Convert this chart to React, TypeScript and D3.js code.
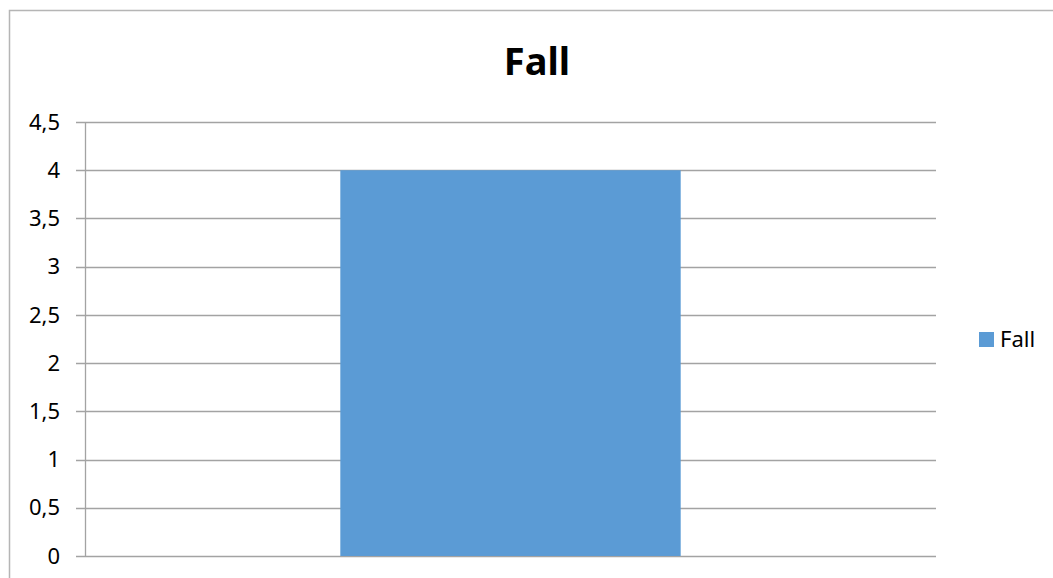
import { useEffect, useRef } from "react";
import * as d3 from "d3";

// données
const categories = ["Fall"];
const values = [4];
const seriesName = "Fall";
const yTicks = [0, 0.5, 1, 1.5, 2, 2.5, 3, 3.5, 4, 4.5];

const width = 1053;
const height = 578;
const margin = { top: 122, right: 117, bottom: 22, left: 85 };
const font = "'Noto Sans', 'Open Sans', sans-serif";

const drawChart = (node: SVGSVGElement) => {
    const svg = d3.select(node);
    svg.selectAll("*").remove();

    // cadre
    svg.append("rect")
        .attr("x", 9.5)
        .attr("y", 10.5)
        .attr("width", width + 20)
        .attr("height", height + 20)
        .attr("fill", "white")
        .attr("stroke", "#b5b5b5")
        .attr("stroke-width", 1.5);

    const x = d3.scaleBand()
        .domain(categories)
        .range([margin.left, width - margin.right])
        .padding(0.4286);

    const y = d3.scaleLinear()
        .domain([0, 4.5])
        .range([height - margin.bottom, margin.top]);

    // lignes de grille
    svg.append("g")
        .selectAll("line")
        .data(yTicks)
        .join("line")
        .attr("x1", margin.left - 9)
        .attr("x2", width - margin.right)
        .attr("y1", d => Math.round(y(d)) + 0.5)
        .attr("y2", d => Math.round(y(d)) + 0.5)
        .attr("stroke", "#a3a3a3")
        .attr("stroke-width", 1.3);

    // barres
    svg.append("g")
        .selectAll("rect")
        .data(values)
        .join("rect")
        .attr("x", (_, i) => x(categories[i]) as number)
        .attr("width", x.bandwidth())
        .attr("y", d => y(d))
        .attr("height", d => y(0) - y(d))
        .attr("fill", "#5b9bd5");

    // axe vertical
    svg.append("line")
        .attr("x1", margin.left + 0.5)
        .attr("x2", margin.left + 0.5)
        .attr("y1", y(4.5))
        .attr("y2", y(0))
        .attr("stroke", "#a3a3a3")
        .attr("stroke-width", 1.3);

    // étiquettes
    svg.append("g")
        .attr("font-family", font)
        .attr("font-size", 22)
        .attr("text-anchor", "end")
        .selectAll("text")
        .data(yTicks)
        .join("text")
        .attr("x", 60)
        .attr("y", d => y(d))
        .attr("dy", "0.35em")
        .attr("fill", "#000")
        .text(d => d3.format("")(d).replace(".", ","));

    // titre
    svg.append("text")
        .attr("x", 537)
        .attr("y", 75)
        .attr("text-anchor", "middle")
        .attr("font-family", font)
        .attr("font-weight", "bold")
        .attr("font-size", 38)
        .text(categories[0]);

    // légende
    const legend = svg.append("g");
    legend.append("rect")
        .attr("x", 979)
        .attr("y", 332)
        .attr("width", 15)
        .attr("height", 15)
        .attr("fill", "#5b9bd5");
    legend.append("text")
        .attr("x", 1000)
        .attr("y", 347)
        .attr("font-family", font)
        .attr("font-size", 22)
        .text(seriesName);
};

export default function App() {
    const ref = useRef<SVGSVGElement>(null);
    useEffect(() => {
        if (ref.current) drawChart(ref.current);
    }, []);
    return (
        <svg
            ref={ref}
            width={width}
            height={height}
            style={{ position: "absolute", left: 0, top: 0, display: "block" }}
        />
    );
}
